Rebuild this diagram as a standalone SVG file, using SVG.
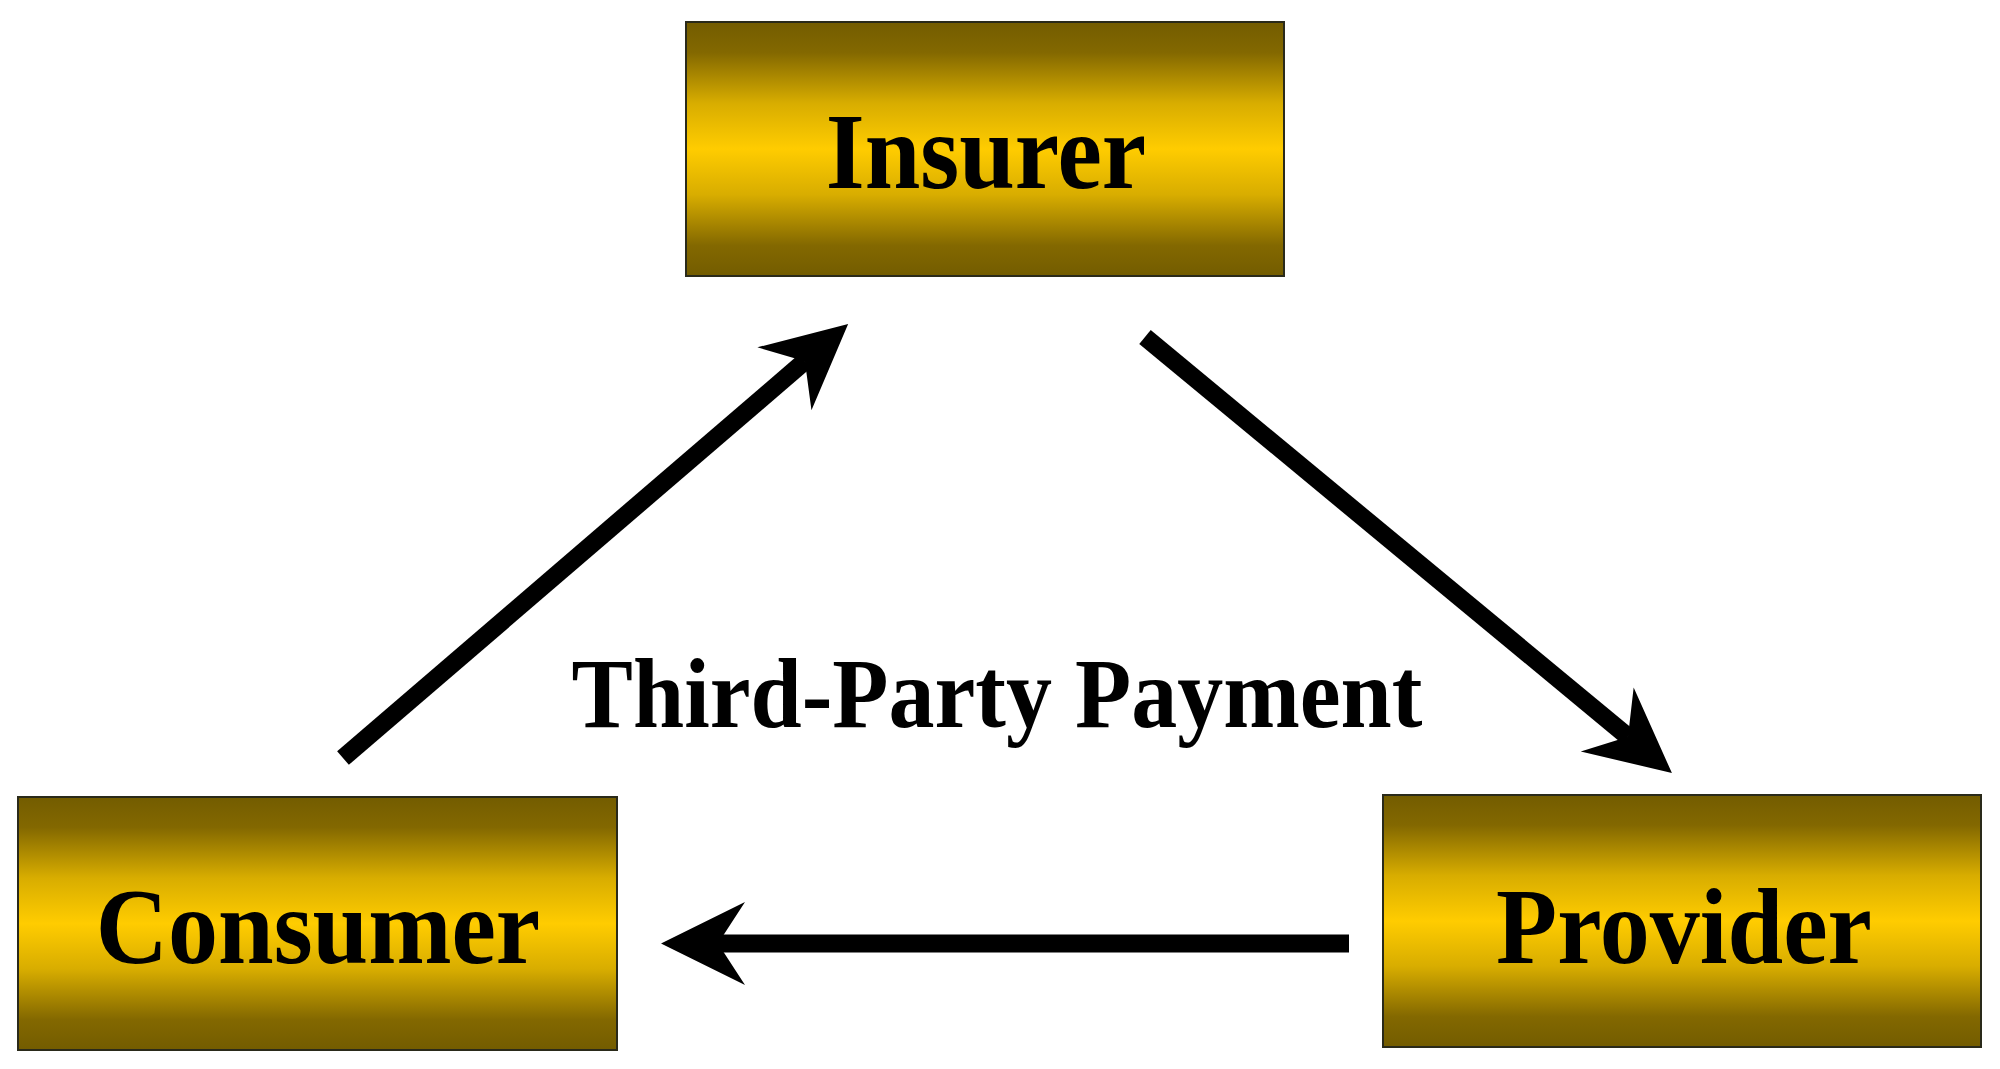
<svg xmlns="http://www.w3.org/2000/svg" width="2000" height="1069" viewBox="0 0 2000 1069">
<defs>
<linearGradient id="gold" x1="0" y1="0" x2="0" y2="1">
<stop offset="0" stop-color="#735c00"/>
<stop offset="0.12" stop-color="#836800"/>
<stop offset="0.32" stop-color="#d8ad00"/>
<stop offset="0.5" stop-color="#ffcc00"/>
<stop offset="0.68" stop-color="#d8ad00"/>
<stop offset="0.88" stop-color="#836800"/>
<stop offset="1" stop-color="#735c00"/>
</linearGradient>
<marker id="head" markerUnits="userSpaceOnUse" viewBox="0 -45 100 90" markerWidth="100" markerHeight="90" refX="33" refY="0" orient="auto">
<path d="M90,0 L6,-41.5 L33,0 L6,41.5 Z" fill="#000"/>
</marker>
</defs>
<style>
.box{fill:url(#gold);stroke:#2a2a1a;stroke-width:2}
.lbl{font-family:"Liberation Serif","Times New Roman",serif;font-weight:bold;fill:#000;text-anchor:middle}
.node{font-size:100px}
.conn{stroke:#000;stroke-width:18;fill:none;marker-end:url(#head)}
</style>
<rect width="2000" height="1069" fill="#fff"/>
<g id="connectors">
<line class="conn" x1="343" y1="758" x2="804.9" y2="361.2"/>
<line class="conn" x1="1145" y1="337" x2="1628" y2="736.7"/>
<line class="conn" x1="1349" y1="943.5" x2="718" y2="943.5"/>
</g>
<g id="insurer">
<rect class="box" x="686" y="22" width="598" height="254"/>
<text class="lbl node" transform="translate(986,188) scale(1,1.07)">Insurer</text>
</g>
<g id="consumer">
<rect class="box" x="18" y="797" width="599" height="253"/>
<text class="lbl node" transform="translate(318,963) scale(1,1.07)">Consumer</text>
</g>
<g id="provider">
<rect class="box" x="1383" y="795" width="598" height="252"/>
<text class="lbl node" transform="translate(1684,963) scale(1,1.07)">Provider</text>
</g>
<g id="caption">
<text class="lbl" font-size="92" transform="translate(997,727) scale(1,1.07)">Third-Party Payment</text>
</g>
</svg>
